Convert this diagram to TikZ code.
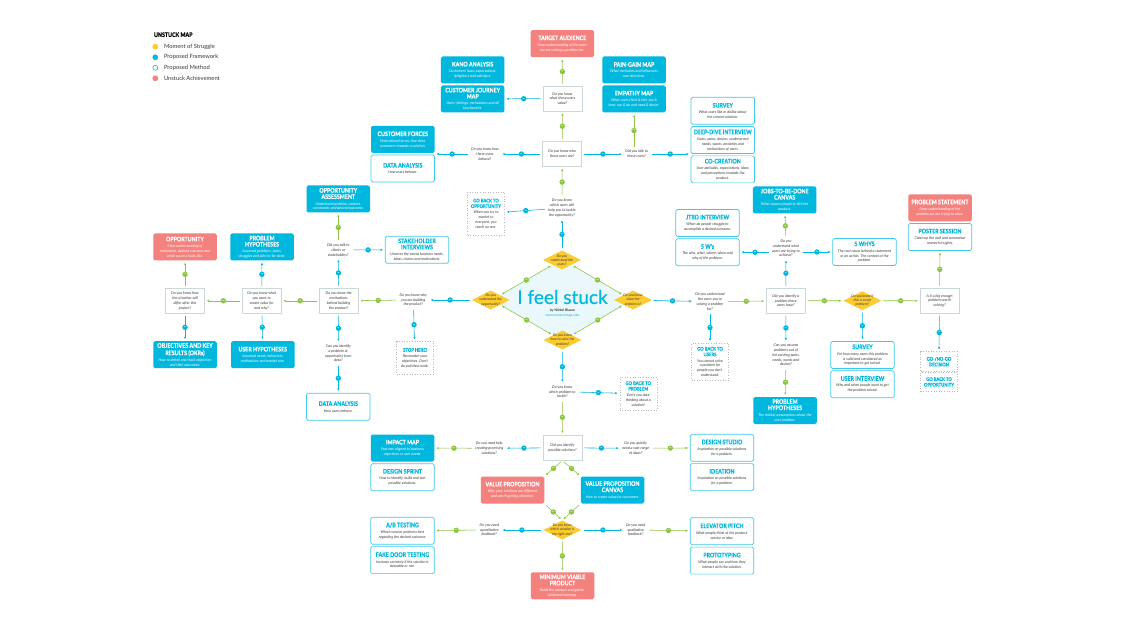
\documentclass[tikz,border=0pt]{standalone}
\usepackage{fontspec}
\setmainfont{Lato}
\newfontfamily\titlefont[FakeStretch=0.84,FakeBold=0.35]{Lato}
\newfontfamily\stuckfont[FakeBold=0.5]{Lato}
\usetikzlibrary{positioning,shapes.geometric,arrows.meta,shadows}

\definecolor{cyn}{RGB}{0,183,221}
\definecolor{sal}{RGB}{243,129,125}
\definecolor{yel}{RGB}{251,203,48}
\definecolor{grn}{RGB}{140,197,66}
\definecolor{hexf}{RGB}{234,248,251}
\definecolor{txt}{RGB}{55,55,55}
\definecolor{qbord}{RGB}{205,214,216}

\newcommand{\ttlf}{\titlefont\bfseries\upshape\fontsize{6.3}{6.8}\selectfont}
\newcommand{\ttls}{\titlefont\bfseries\upshape\fontsize{5}{5.6}\selectfont}
\newcommand{\bodyf}{\fontsize{3.7}{4.8}\selectfont\itshape}
\newcommand{\ftl}[1]{{\ttlf #1}}
\newcommand{\mtl}[1]{{\ttlf\color{cyn}#1}}
\newcommand{\btl}[1]{{\ttls\color{cyn}#1}}

\tikzset{
  box/.style={rounded corners=1.6pt, minimum width=63.5pt, minimum height=27pt, inner sep=1pt, align=center, font=\bodyf},
  fwbox/.style={box, fill=cyn, text=white},
  achbox/.style={box, fill=sal, text=white},
  mtbox/.style={box, draw=cyn!75, line width=0.7pt, fill=white, text=txt},
  backbox/.style={draw=gray!55, dotted, line width=0.6pt, fill=white, minimum width=37pt, inner sep=1.5pt, align=center, font=\bodyf, text=txt},
  qbox/.style={draw=qbord, line width=0.6pt, fill=white, minimum width=39pt, minimum height=25pt, inner sep=1pt, align=center, font=\bodyf, text=txt,
    drop shadow={opacity=0.12, shadow xshift=0.3pt, shadow yshift=-0.6pt}},
  qtext/.style={align=center, font=\bodyf, text=txt, inner sep=1.5pt},
  qdia/.style={diamond, fill=yel, aspect=2, minimum width=38pt, minimum height=19pt, inner sep=-4pt, align=center,
    font=\fontsize{3.5}{4.1}\selectfont\itshape, text=txt},
  yesline/.style={draw=grn, line width=0.55pt, -{Latex[length=2.2pt,width=2.4pt]}, shorten >=2pt, shorten <=2pt},
  noline/.style={yesline, draw=cyn},
  ydot/.style={circle, fill=grn, minimum size=5.4pt, inner sep=0pt, text=white, font=\fontsize{1.7}{2}\selectfont\bfseries\upshape},
  ndot/.style={ydot, fill=cyn},
}

\begin{document}
\begin{tikzpicture}[x=1pt,y=-1pt]
  \useasboundingbox[fill=white] (0,0) rectangle (1125,631);

  % legend
  \node[anchor=west, font=\ttlf, text=black] (lgtitle) at (150.5,34.7) {UNSTUCK MAP};
  \foreach \i/\y/\f/\d/\t in {1/46.7/yel/yel/Moment of Struggle, 2/57.3/cyn/cyn/Proposed Framework,
      3/67.8/white/cyn/Proposed Method, 4/78.3/sal/sal/Unstuck Achievement}{
    \node[circle, fill=\f, draw=\d, line width=0.6pt, minimum size=5pt, inner sep=0pt] (lg\i) at (155.3,\y) {};
    \node[anchor=west, font=\fontsize{5.8}{6}\selectfont, text=txt] (lgt\i) at (160.5,\y) {\t};
  }

  % centre
  \coordinate (cu) at (562,260);
  \coordinate (cp) at (633,300);
  \coordinate (cs) at (562.5,340);
  \coordinate (co) at (490.7,300);
  \fill[hexf] (cu) -- (cp) -- (cs) -- (co) -- cycle;
  \node[qdia] (dusers) at (cu) {Do you\\understand the\\users?};
  \node[qdia] (dprob) at (cp) {Do you know\\what the\\problem is?};
  \node[qdia] (dsolve) at (cs) {Do you know\\how to solve the\\problem?};
  \node[qdia] (dopp) at (co) {Do you\\understand the\\opportunity?};
  \node[font=\stuckfont\fontsize{19}{20}\selectfont, text=cyn, inner sep=0pt] (stuck) at (562.5,297) {I feel stuck};
  \node[font=\fontsize{3.4}{4}\selectfont\bfseries, text=txt, inner sep=0pt] (by) at (562.5,310.8) {by Nikkel Blaase};
  \node[font=\fontsize{3.4}{4}\selectfont, text=cyn, inner sep=0pt] (www) at (562.5,315.6) {www.unstuckmap.com};
  \foreach \a/\b in {dopp.north east/dusers.south west, dusers.south east/dprob.north west,
      dprob.south west/dsolve.north east, dsolve.north west/dopp.south east}
    \draw[yesline, {Latex[length=2.2pt,width=2.4pt]}-{Latex[length=2.2pt,width=2.4pt]}] (\a) -- node[ydot]{yes} (\b);

  % top: users
  \node[achbox] (target) at (562.3,43.7) {\ftl{TARGET AUDIENCE}\\[1.4pt]Deep understanding of the users\\we are solving a problem for.};
  \node[fwbox] (kano) at (472.7,70) {\ftl{KANO ANALYSIS}\\[1.4pt]Customers' basic expectations,\\delighters and satisfiers.};
  \node[fwbox, below=1.6pt of kano] (cjour) {\ftl{CUSTOMER JOURNEY}\\[1.4pt]\ftl{MAP}\\[1.4pt]Users' feelings, motivations and all\\touchpoints.};
  \node[fwbox] (paingain) at (634,70) {\ftl{PAIN-GAIN MAP}\\[1.4pt]What motivates and influences\\user decisions.};
  \node[fwbox, below=1.6pt of paingain] (empathy) {\ftl{EMPATHY MAP}\\[1.4pt]What users think \& feel, see \&\\hear, say \& do and need \& desire.};
  \node[qbox] (value) at (562.5,98.5) {Do you know\\what these users\\value?};
  \node[qbox] (who) at (562.2,154) {Do you know who\\these users are?};
  \node[qtext] (howbeh) at (485,154) {Do you know how\\these users\\behave?};
  \node[fwbox] (custf) at (402.8,139.3) {\ftl{CUSTOMER FORCES}\\[1.4pt]Motivational forces that drive\\customers towards a solution.};
  \node[mtbox, below=1.6pt of custf] (dataA1) {\mtl{DATA ANALYSIS}\\[1.4pt]How users behave.};
  \node[qtext] (talk) at (636.7,154) {Did you talk to\\these users?};
  \node[mtbox] (survey1) at (722.8,110.8) {\mtl{SURVEY}\\[1.4pt]What users like or dislike about\\the current solution.};
  \node[mtbox, below=1.6pt of survey1] (deepdive) {\mtl{DEEP-DIVE INTERVIEW}\\[1.4pt]Gains, pains, desires, underserved\\needs, wants, anxieties and\\motivations of users.};
  \node[mtbox, below=1.6pt of deepdive] (cocr) {\mtl{CO-CREATION}\\[1.4pt]User attitudes, expectations, ideas\\and perceptions towards the\\product.};
  \node[qtext] (whichusers) at (562,208) {Do you know\\which users will\\help you to tackle\\the opportunity?};
  \node[backbox, minimum height=43pt] (gbopp) at (486,213.5) {\btl{GO BACK TO}\\[0.8pt]\btl{OPPORTUNITY}\\[1pt]When you try to\\market to\\everyone, you\\reach no one.};

  \draw[noline] (dusers) -- node[ndot]{no} (whichusers);
  \draw[noline] (whichusers) -- node[ndot]{no} (gbopp);
  \draw[yesline] (whichusers) -- node[ydot]{yes} (who);
  \draw[noline] (who) -- node[ndot]{no} (howbeh);
  \draw[noline] (howbeh) -- node[ndot]{no} (howbeh -| custf.east);
  \draw[noline] (who) -- node[ndot]{no} (talk);
  \draw[noline] (talk) -- node[ndot]{no} (talk -| cocr.west);
  \draw[yesline] (talk.north -| empathy.south) -- node[ydot]{yes} (empathy.south);
  \draw[yesline] (who) -- node[ydot]{yes} (value);
  \draw[yesline] (value) -- node[ydot]{yes} (target);
  \draw[noline] (value) -- node[ndot]{no} (cjour);

  % left: opportunity
  \node[qtext] (why) at (413.3,300) {Do you know why\\you are building\\the product?};
  \node[backbox, minimum height=33pt] (stophere) at (415,358) {\btl{STOP HERE!}\\[1pt]Reconsider your\\objectives. Don't\\do pointless work.};
  \node[qbox] (motiv) at (338.7,300.8) {Do you know the\\motivations\\behind building\\the product?};
  \node[qtext] (talkcl) at (338.3,250) {Did you talk to\\clients or\\stakeholders?};
  \node[mtbox] (stakeh) at (417,249.7) {\mtl{STAKEHOLDER}\\[1.4pt]\mtl{INTERVIEWS}\\[1.4pt]Uncover the varied business needs,\\ideas, visions and motivations.};
  \node[fwbox] (oppass) at (338.3,199) {\ftl{OPPORTUNITY}\\[1.4pt]\ftl{ASSESSMENT}\\[1.4pt]Understand problem, context,\\constraints and desired outcome.};
  \node[qtext] (identdata) at (338.3,353.3) {Can you identify\\a problem or\\opportunity from\\data?};
  \node[mtbox] (dataA2) at (338.3,406.7) {\mtl{DATA ANALYSIS}\\[1.4pt]How users behave.};
  \node[qbox] (wantval) at (261.7,300.8) {Do you know what\\you want to\\create value for\\and why?};
  \node[fwbox] (probhyp1) at (262,247) {\ftl{PROBLEM}\\[1.4pt]\ftl{HYPOTHESES}\\[1.4pt]Assumed problems, pains,\\struggles and jobs-to-be-done.};
  \node[fwbox] (userhyp) at (262.8,354.7) {\ftl{USER HYPOTHESES}\\[1.4pt]Assumed needs, behaviors,\\motivations and market size.};
  \node[qbox] (differ) at (185,300.8) {Do you know how\\the situation will\\differ after this\\project?};
  \node[achbox] (opport) at (185,247) {\ftl{OPPORTUNITY}\\[1.4pt]Clear understanding of\\motivation, desired outcome and\\what success looks like.};
  \node[fwbox] (okr) at (185,354.7) {\ftl{OBJECTIVES AND KEY}\\[1.4pt]\ftl{RESULTS (OKRs)}\\[1.4pt]How to define and track objectives\\and their outcomes.};

  \draw[noline] (dopp) -- node[ndot]{no} (why);
  \draw[noline] (why) -- node[ndot]{no} (stophere);
  \draw[yesline] (why) -- node[ydot]{yes} (motiv);
  \draw[noline] (motiv) -- node[ndot]{no} (talkcl);
  \draw[noline] (talkcl) -- node[ndot]{no} (stakeh);
  \draw[yesline] (talkcl) -- node[ydot]{yes} (oppass);
  \draw[noline] (motiv) -- node[ndot]{no} (identdata);
  \draw[noline] (identdata) -- node[ndot]{no} (dataA2);
  \draw[yesline] (motiv) -- node[ydot]{yes} (wantval);
  \draw[noline] (wantval) -- node[ndot]{no} (probhyp1);
  \draw[noline] (wantval) -- node[ndot]{no} (userhyp);
  \draw[yesline] (wantval) -- node[ydot]{yes} (differ);
  \draw[yesline] (differ) -- node[ydot]{yes} (opport);
  \draw[noline] (differ) -- node[ndot]{no} (okr);

  % right: problem
  \node[qtext] (undusers) at (710,301.7) {Do you understand\\the users you're\\solving a problem\\for?};
  \node[backbox, minimum height=37pt] (gbusers) at (710,361.7) {\btl{GO BACK TO}\\[0.8pt]\btl{USERS}\\[1pt]You cannot solve\\a problem for\\people you don't\\understand.};
  \node[qbox] (identprob) at (785.8,300.8) {Did you identify a\\problem these\\users have?};
  \node[qtext] (achieve) at (786,248.3) {Do you\\understand what\\users are trying to\\achieve?};
  \node[fwbox] (jtbdc) at (784.7,200) {\ftl{JOBS-TO-BE-DONE}\\[1.4pt]\ftl{CANVAS}\\[1.4pt]What causes people to hire the\\product.};
  \node[mtbox] (jtbdi) at (707.5,223) {\mtl{JTBD INTERVIEW}\\[1.4pt]When do people struggle to\\accomplish a desired outcome.};
  \node[mtbox, below=1.6pt of jtbdi] (fivew) {\mtl{5 W's}\\[1.4pt]The who, what, where, when and\\why of the problem.};
  \node[mtbox] (fivewhys) at (864.5,252) {\mtl{5 WHYS}\\[1.4pt]The root cause behind a statement\\or an action. The context of the\\problem.};
  \node[qtext] (assume) at (786,355) {Can you assume\\problems out of\\the existing pains,\\needs, wants and\\desires?};
  \node[fwbox] (probhyp2) at (785,410.5) {\ftl{PROBLEM}\\[1.4pt]\ftl{HYPOTHESES}\\[1.4pt]The riskiest assumptions about the\\user problem.};
  \node[qdia] (realprob) at (862.3,300.7) {Do you know if\\this is a real\\problem?};
  \node[mtbox] (survey2) at (862.5,355) {\mtl{SURVEY}\\[1.4pt]For how many users this problem\\is valid and considered as\\important to get solved.};
  \node[mtbox, below=1.6pt of survey2] (userint) {\mtl{USER INTERVIEW}\\[1.4pt]Why and when people want to get\\the problem solved.};
  \node[qbox] (bigenough) at (939.5,300.8) {Is it a big enough\\problem worth\\solving?};
  \node[achbox] (probstat) at (940,207.8) {\ftl{PROBLEM STATEMENT}\\[1.4pt]Deep understanding of the\\problem we are trying to solve.};
  \node[mtbox, below=1.6pt of probstat] (poster) {\mtl{POSTER SESSION}\\[1.4pt]Clean up the wall and summarize\\research insights.};
  \node[backbox, minimum height=20pt] (gonogo) at (939,361.7) {\btl{GO-/NO-GO}\\[0.8pt]\btl{DECISION}};
  \node[backbox, minimum height=19.4pt, below=0pt of gonogo] (gbopp2) {\btl{GO BACK TO}\\[0.8pt]\btl{OPPORTUNITY}};

  \draw[noline] (dprob) -- node[ndot]{no} (undusers);
  \draw[noline] (undusers) -- node[ndot]{no} (gbusers);
  \draw[yesline] (undusers) -- node[ydot]{yes} (identprob);
  \draw[noline] (identprob) -- node[ndot]{no} (achieve);
  \draw[yesline] (achieve) -- node[ydot]{yes} (jtbdc);
  \draw[noline] (achieve.west |- fivew.east) -- node[ndot]{no} (fivew.east);
  \draw[noline] (achieve.east |- fivewhys.west) -- node[ndot]{no} (fivewhys.west);
  \draw[noline] (identprob) -- node[ndot]{no} (assume);
  \draw[yesline] (assume) -- node[ydot]{yes} (probhyp2);
  \draw[yesline] (identprob) -- node[ydot]{yes} (realprob);
  \draw[noline] (realprob) -- node[ndot]{no} (survey2);
  \draw[yesline] (realprob) -- node[ydot]{yes} (bigenough);
  \draw[yesline] (bigenough) -- node[ydot]{yes} (poster);
  \draw[noline] (bigenough) -- node[ndot]{no} (gonogo);

  % bottom: solution
  \node[qtext] (whichprob) at (562.3,391.7) {Do you know\\which problem to\\tackle?};
  \node[backbox, minimum height=33pt] (gbprob) at (638.3,393.7) {\btl{GO BACK TO}\\[0.8pt]\btl{PROBLEM}\\[1pt]Don't you dare\\thinking about a\\solution!};
  \node[qbox] (possible) at (562.5,447.8) {Did you identify\\possible solutions?};
  \node[qtext] (needhelp) at (489.3,448.3) {Do you need help\\creating promising\\solutions?};
  \node[fwbox] (impact) at (402.5,448) {\ftl{IMPACT MAP}\\[1.4pt]Features aligned to business\\objectives or user needs.};
  \node[mtbox, below=1.6pt of impact] (dsprint) {\mtl{DESIGN SPRINT}\\[1.4pt]How to identify, build and test\\possible solutions.};
  \node[qtext] (quickly) at (635.7,448.3) {Do you quickly\\need a vast range\\of ideas?};
  \node[mtbox] (dstudio) at (722,447.8) {\mtl{DESIGN STUDIO}\\[1.4pt]Inspiration on possible solutions\\for a problem.};
  \node[mtbox, below=1.6pt of dstudio] (ideation) {\mtl{IDEATION}\\[1.4pt]Inspiration on possible solutions\\for a problem.};
  \node[achbox] (vprop) at (512.5,490) {\ftl{VALUE PROPOSITION}\\[1.4pt]Why your solutions are different\\and worth getting attention.};
  \node[fwbox] (vpc) at (612.5,490) {\ftl{VALUE PROPOSITION}\\[1.4pt]\ftl{CANVAS}\\[1.4pt]How to create value for customers.};
  \node[qdia] (rightone) at (562.3,530) {Do you know\\which solution is\\the right one?};
  \node[qtext] (quant) at (489.3,530) {Do you need\\quantitative\\feedback?};
  \node[mtbox] (ab) at (402.5,530.8) {\mtl{A/B TESTING}\\[1.4pt]Which version performs best\\regarding the desired outcome.};
  \node[mtbox, below=1.6pt of ab] (fakedoor) {\mtl{FAKE DOOR TESTING}\\[1.4pt]Increase certainty if the solution is\\desirable or not.};
  \node[qtext] (qual) at (635.7,530) {Do you need\\qualitative\\feedback?};
  \node[mtbox] (elev) at (722,531.3) {\mtl{ELEVATOR PITCH}\\[1.4pt]What people think of the product,\\service or idea.};
  \node[mtbox, below=1.6pt of elev] (proto) {\mtl{PROTOTYPING}\\[1.4pt]What people say and how they\\interact with the solution.};
  \node[achbox] (mvp) at (562.5,585.8) {\ftl{MINIMUM VIABLE}\\[1.4pt]\ftl{PRODUCT}\\[1.4pt]Build the product and gather\\validated learnings.};

  \draw[noline] (dsolve) -- node[ndot]{no} (whichprob);
  \draw[noline] (whichprob) -- node[ndot]{no} (gbprob);
  \draw[yesline] (whichprob) -- node[ydot]{yes} (possible);
  \draw[noline] (possible) -- node[ndot]{no} (needhelp);
  \draw[yesline] (needhelp) -- node[ydot]{yes} (impact);
  \draw[noline] (possible) -- node[ndot]{no} (quickly);
  \draw[yesline] (quickly) -- node[ydot]{yes} (dstudio);
  \draw[yesline] (possible.south) -- node[ydot]{yes} (vprop.north east);
  \draw[yesline] (possible.south) -- node[ydot]{yes} (vpc.north west);
  \draw[yesline] (vprop.south east) -- node[ydot]{yes} (rightone.north);
  \draw[yesline] (vpc.south west) -- node[ydot]{yes} (rightone.north);
  \draw[noline] (rightone) -- node[ndot]{no} (quant);
  \draw[yesline] (quant) -- node[ydot]{yes} (ab);
  \draw[noline] (rightone) -- node[ndot]{no} (qual);
  \draw[yesline] (qual) -- node[ydot]{yes} (elev);
  \draw[yesline] (rightone) -- node[ydot]{yes} (mvp);
\end{tikzpicture}
\end{document}
